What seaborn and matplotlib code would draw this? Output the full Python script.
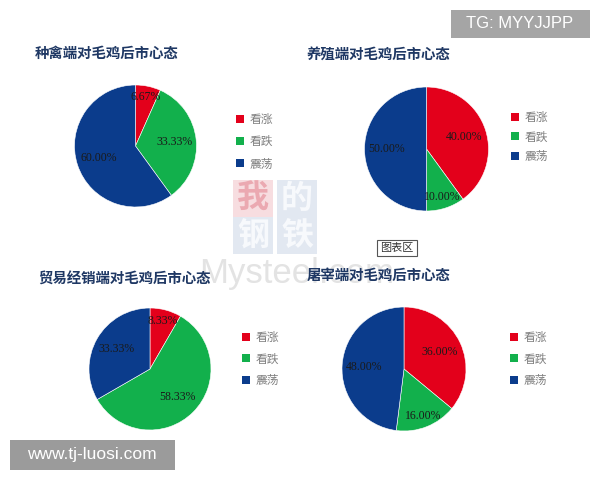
import matplotlib
matplotlib.use('Agg')
import numpy as np
import matplotlib.pyplot as plt
import seaborn as sns
from matplotlib.patches import Patch, Rectangle

# ---------------- data ----------------
categories = ['看涨', '看跌', '震荡']
titles = ['种禽端对毛鸡后市心态', '养殖端对毛鸡后市心态',
          '贸易经销端对毛鸡后市心态', '屠宰端对毛鸡后市心态']
seed_vals = [6.67, 33.33, 60.00]
farm_vals = [40.00, 10.00, 50.00]
trade_vals = [8.33, 58.33, 33.33]
slaughter_vals = [36.00, 16.00, 48.00]
series = [seed_vals, farm_vals, trade_vals, slaughter_vals]

# ---------------- style ----------------
sns.set_theme(style='white')
plt.rcParams['font.family'] = ['Noto Sans CJK SC', 'DejaVu Sans']
colors = sns.color_palette(['#E3001B', '#12B04C', '#0B3C8C'])

W, H = 600, 480
fig = plt.figure(figsize=(6, 4.8), dpi=100)
fig.patch.set_facecolor('white')

def fx(x):
    return x / W

def fy(y):
    return 1 - y / H

# panel layout (pixels): pie center, radius, title pos, legend pos, legend spacing
panels = [
    dict(c=(135.5, 146), r=61, t=(35, 54), lg=(236, 113), sp=0.78),
    dict(c=(426.5, 149), r=62, t=(307, 55), lg=(511, 111), sp=0.55),
    dict(c=(150, 369), r=61, t=(38, 280), lg=(242, 331), sp=0.72),
    dict(c=(404, 369), r=62, t=(307, 276), lg=(510, 331), sp=0.72),
]

# ---------------- watermark (behind) ----------------
wm_boxes = [((233, 180), '我', '#f7dde0', '#eba9b1'),
            ((277, 180), '的', '#e2e8f1', '#f7f9fc'),
            ((233, 217), '钢', '#e2e8f1', '#f7f9fc'),
            ((277, 217), '铁', '#e2e8f1', '#f7f9fc')]
for (x0, y0), ch, bg, fg in wm_boxes:
    fig.patches.append(Rectangle((fx(x0), fy(y0 + 37)), fx(40), 37 / H,
                                 transform=fig.transFigure, facecolor=bg,
                                 edgecolor='none', zorder=-2))
    fig.text(fx(x0 + 20), fy(y0 + 18.5), ch, ha='center', va='center',
             fontsize=23, color=fg, fontweight='bold', zorder=-1,
             family=['Noto Sans CJK SC'])
fig.text(fx(297), fy(273), 'Mysteel.com', ha='center', va='center',
         fontsize=25, color='#e3e3e3', zorder=-1, family=['Liberation Sans'])

# ---------------- pies ----------------
for vals, title, p in zip(series, titles, panels):
    cx, cy = p['c']
    r = p['r']
    ax = fig.add_axes([fx(cx - r), fy(cy + r), fx(2 * r), 2 * r / H])
    label_iter = iter(vals)
    wedges, texts, autotexts = ax.pie(
        vals, colors=colors, startangle=90, counterclock=False,
        autopct=lambda _p: f'{next(label_iter):.2f}%', pctdistance=0.62,
        wedgeprops=dict(linewidth=0.4, edgecolor='white'),
        textprops=dict(fontsize=8.5, color='#1a1a1a',
                       family=['Liberation Serif']))
    for w, t, v in zip(wedges, autotexts, vals):
        ang = np.deg2rad((w.theta1 + w.theta2) / 2)
        d = 0.82 if v < 20 else 0.64
        t.set_position((d * np.cos(ang), d * np.sin(ang)))
    ax.set_xlim(-1.0, 1.0)
    ax.set_ylim(-1.0, 1.0)
    ax.set_aspect('equal')
    ax.axis('off')

    fig.text(fx(p['t'][0]), fy(p['t'][1]), title, ha='left', va='center',
             fontsize=10.4, fontweight='bold', color='#1F3864')

    handles = [Patch(facecolor=c, edgecolor='none') for c in colors]
    fig.legend(handles, categories, loc='upper left',
               bbox_to_anchor=(fx(p['lg'][0]), fy(p['lg'][1])),
               bbox_transform=fig.transFigure, frameon=False,
               fontsize=8.5, labelcolor='#7f7f7f',
               handlelength=0.65, handleheight=0.65, handletextpad=0.5,
               labelspacing=p['sp'], borderpad=0, borderaxespad=0)

# ---------------- overlays ----------------
fig.text(fx(397), fy(248), '图表区', ha='center', va='center', fontsize=8,
         color='#333333',
         bbox=dict(boxstyle='square,pad=0.3', facecolor='white',
                   edgecolor='#555555', linewidth=0.8))

fig.patches.append(Rectangle((fx(451), fy(38)), fx(139), 28 / H,
                             transform=fig.transFigure, facecolor='#a5a5a5',
                             edgecolor='none', zorder=5))
fig.text(fx(520), fy(24), 'TG: MYYJJPP', ha='center', va='center',
         fontsize=12, color='white', zorder=6, family=['Liberation Sans'])

fig.patches.append(Rectangle((fx(10), fy(470)), fx(165), 30 / H,
                             transform=fig.transFigure, facecolor='#9b9b9b',
                             edgecolor='none', zorder=5))
fig.text(fx(92), fy(455), 'www.tj-luosi.com', ha='center', va='center',
         fontsize=12.5, color='white', zorder=6, family=['Liberation Sans'])

fig.savefig('out.png', dpi=100, facecolor='white')
